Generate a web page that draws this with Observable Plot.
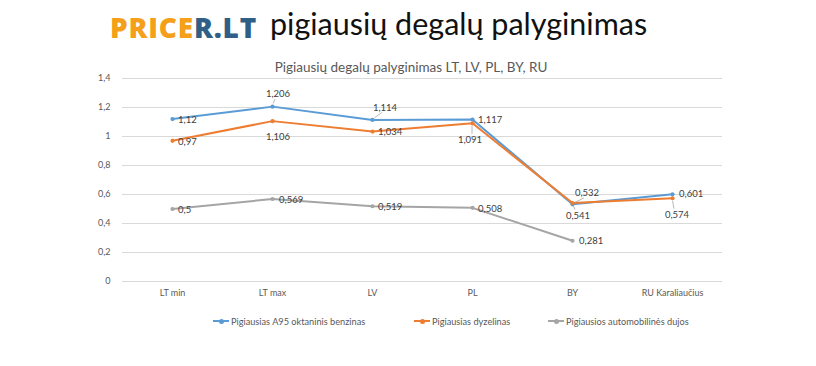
<!DOCTYPE html>
<html><head><meta charset="utf-8">
<script src="https://cdn.jsdelivr.net/npm/d3@7"></script>
<script src="https://cdn.jsdelivr.net/npm/@observablehq/plot@0.6"></script>
<style>
body{margin:0;background:#fff;font-family:Lato,"Open Sans",sans-serif;}
#wrap{position:relative;width:816px;height:366px;overflow:hidden;}
.abs{position:absolute;white-space:nowrap;}
#brand{left:110px;top:8px;font-family:"Open Sans";font-weight:800;font-size:28px;letter-spacing:0.8px;}
#head{left:270px;top:5px;font-family:Lato;font-size:30.5px;color:#111;}
#ctitle{left:0;width:822px;text-align:center;top:59px;font-size:13.5px;color:#595959;}
#legend{top:0;left:0;width:816px;height:366px;font-size:9.2px;color:#595959;}
.li{position:absolute;top:315px;display:flex;align-items:center;height:12px;}
.sw{position:relative;width:16px;height:2px;margin-right:2px;}
.sw i{position:absolute;left:6px;top:-1.5px;width:5px;height:5px;border-radius:3px;}
</style></head>
<body><div id="wrap">
<div id="brand" class="abs"><span style="color:#f5a01a">PRICE</span><span style="color:#2f5f86">R.LT</span></div>
<div id="head" class="abs">pigiausių degalų palyginimas</div>
<div id="ctitle" class="abs">Pigiausių degalų palyginimas LT, LV, PL, BY, RU</div>
<div id="chart" class="abs" style="left:0;top:0"></div>
<div id="legend" class="abs"></div>
</div>
<script>
const categories = ["LT min", "LT max", "LV", "PL", "BY", "RU Karaliaučius"];
const seriesNames = ["Pigiausias A95 oktaninis benzinas", "Pigiausias dyzelinas", "Pigiausios automobilinės dujos"];
const benzinas = [1.12, 1.206, 1.114, 1.117, 0.532, 0.601];
const dyzelinas = [0.97, 1.106, 1.034, 1.091, 0.541, 0.574];
const dujos = [0.5, 0.569, 0.519, 0.508, 0.281, null];
const yTicks = [0, 0.2, 0.4, 0.6, 0.8, 1, 1.2, 1.4];
const colors = ["#5b9bd5", "#ed7d31", "#a5a5a5"];

// label placement (layout only): [dx, dy, anchor, leader]
const labelLayout = [
  [[6,1,"start",0],[6,-12,"middle",1],[13,-12,"middle",1],[6,1,"start",0],[15,-11,"middle",1],[7,0,"start",0]],
  [[6,1,"start",0],[6,16,"middle",0],[6,1,"start",0],[-2,17,"middle",1],[6,13,"middle",1],[5,17,"middle",1]],
  [[6,1,"start",0],[7,1,"start",0],[6,1,"start",0],[6,1,"start",0],[7,0,"start",0],[0,0,"start",0]]
];

const allValues = [benzinas, dyzelinas, dujos];
const data = [];
allValues.forEach((vals, s) => vals.forEach((v, i) => {
  if (v != null) {
    const L = labelLayout[s][i];
    data.push({series: seriesNames[s], cat: categories[i], value: v, label: String(v).replace(".", ","),
      dx: L[0], dy: L[1], anchor: L[2], leader: L[3], s});
  }
}));

const fmt = d => String(d).replace(".", ",");
const labelsMark = Plot.dot(data, {
  x: "cat", y: "value", r: 0,
  render: (index, scales, values, dims) => {
    const g = d3.create("svg:g").attr("font-size", 9.5).attr("fill", "#404040");
    for (const i of index) {
      const d = data[i];
      const px = values.x[i], py = values.y[i];
      const tx = px + d.dx, ty = py + d.dy;
      if (d.leader) {
        const up = d.dy < 0;
        const ex = tx + (d.dx > 0 ? -3 : 2), ey = ty + (up ? 5 : -6);
        const len = Math.hypot(ex - px, ey - py);
        const sx = px + (ex - px) * 3 / len, sy = py + (ey - py) * 3 / len;
        g.append("line").attr("x1", sx).attr("y1", sy).attr("x2", ex).attr("y2", ey)
          .attr("stroke", "#a6a6a6").attr("stroke-width", 0.8);
      }
      g.append("text").attr("x", tx).attr("y", ty).attr("dy", "0.35em")
        .attr("text-anchor", d.anchor).text(d.label);
    }
    return g.node();
  }
});

const plot = Plot.plot({
  width: 816, height: 366,
  marginLeft: 122, marginRight: 94, marginTop: 78, marginBottom: 85,
  style: {fontFamily: "Lato, 'Open Sans', sans-serif", fontSize: "9px", color: "#595959", background: "transparent"},
  x: {type: "point", domain: categories, padding: 0.5, label: null, tickSize: 0, tickPadding: 8},
  y: {domain: [0, 1.4], ticks: yTicks, tickFormat: fmt, label: null, tickSize: 0, tickPadding: 12},
  color: {domain: seriesNames, range: colors},
  marks: [
    Plot.ruleY(yTicks, {stroke: "#d9d9d9", strokeWidth: 1}),
    Plot.line(data, {x: "cat", y: "value", z: "series", stroke: "series", strokeWidth: 2}),
    Plot.dot(data, {x: "cat", y: "value", fill: "series", r: 2.1}),
    labelsMark
  ]
});
document.getElementById("chart").appendChild(plot);

const legendX = [213, 414, 548];
const leg = document.getElementById("legend");
seriesNames.forEach((n, s) => {
  const el = document.createElement("div");
  el.className = "li";
  el.style.left = legendX[s] + "px";
  el.innerHTML = `<span class="sw" style="background:${colors[s]}"><i style="background:${colors[s]}"></i></span><span>${n}</span>`;
  leg.appendChild(el);
});
</script>
</body></html>
